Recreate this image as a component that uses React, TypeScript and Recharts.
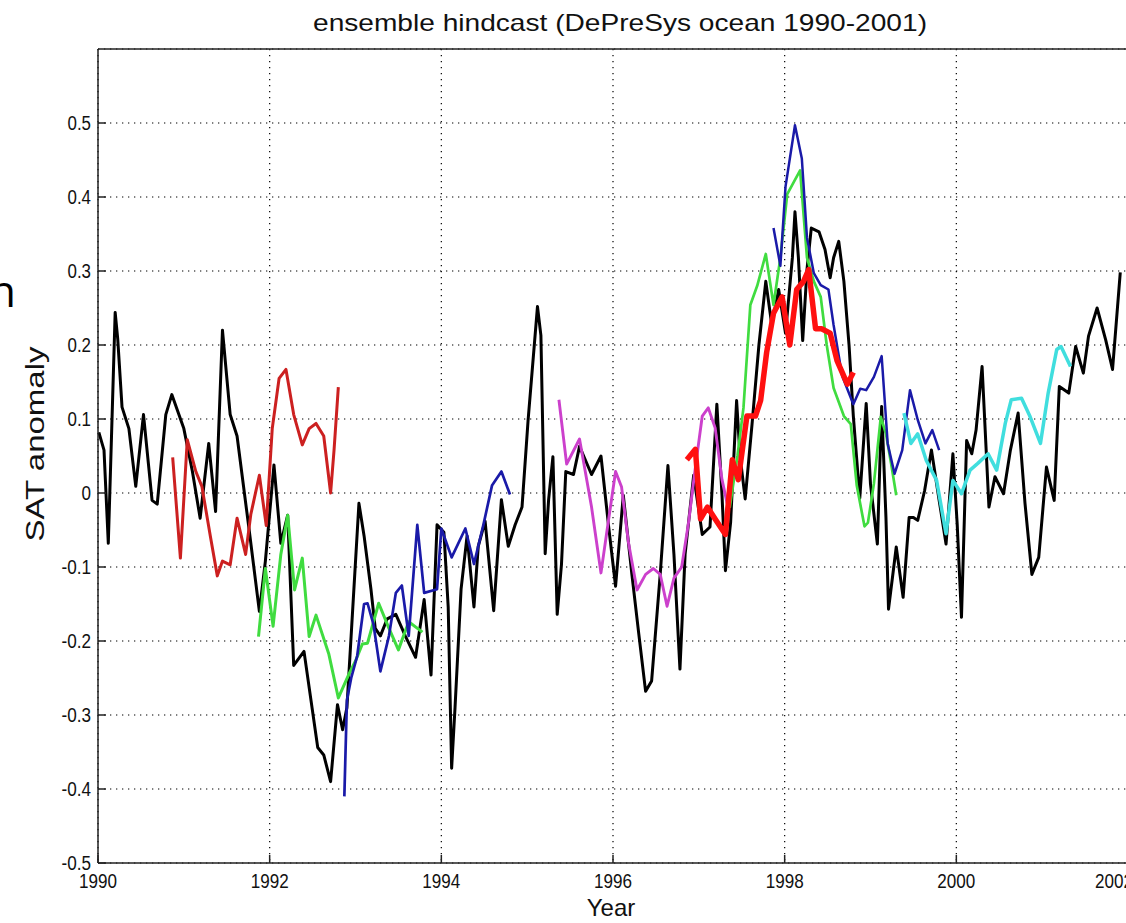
import React from "react";
import { LineChart, Line, XAxis, YAxis, CartesianGrid } from "recharts";

// ---- data (decimal year, SAT anomaly) ----
const obsYears = [
  1990.01, 1990.07, 1990.12, 1990.16, 1990.2, 1990.23, 1990.28, 1990.36, 1990.44, 1990.53, 1990.63, 1990.69,
  1990.79, 1990.86, 1991.0, 1991.1, 1991.19, 1991.29, 1991.37, 1991.45, 1991.54, 1991.62, 1991.76, 1991.88,
  1991.95, 1992.05, 1992.13, 1992.21, 1992.28, 1992.4, 1992.56, 1992.63, 1992.71, 1992.79, 1992.85, 1992.9,
  1993.04, 1993.1, 1993.18, 1993.23, 1993.29, 1993.37, 1993.47, 1993.58, 1993.7, 1993.8, 1993.88, 1993.95,
  1994.03, 1994.08, 1994.12, 1994.16, 1994.23, 1994.3, 1994.38, 1994.43, 1994.51, 1994.61, 1994.7, 1994.78,
  1994.86, 1994.94, 1995.01, 1995.12, 1995.16, 1995.21, 1995.25, 1995.3, 1995.35, 1995.4, 1995.45, 1995.54,
  1995.61, 1995.75, 1995.86, 1995.95, 1996.03, 1996.12, 1996.22, 1996.3, 1996.38, 1996.45, 1996.55, 1996.64,
  1996.71, 1996.78, 1996.84, 1996.94, 1997.04, 1997.13, 1997.21, 1997.27, 1997.31, 1997.37, 1997.44, 1997.48,
  1997.54, 1997.62, 1997.7, 1997.78, 1997.85, 1997.93, 1998.01, 1998.09, 1998.12, 1998.16, 1998.21, 1998.26,
  1998.31, 1998.4, 1998.47, 1998.53, 1998.57, 1998.63, 1998.69, 1998.75, 1998.8, 1998.875, 1998.95, 1999.0,
  1999.08, 1999.13, 1999.18, 1999.21, 1999.3, 1999.38, 1999.45, 1999.5, 1999.55, 1999.63, 1999.71, 1999.8,
  1999.88, 1999.96, 2000.01, 2000.06, 2000.12, 2000.18, 2000.23, 2000.3, 2000.38, 2000.45, 2000.55, 2000.63,
  2000.72, 2000.8, 2000.88, 2000.96, 2001.05, 2001.14, 2001.2, 2001.31, 2001.39, 2001.48, 2001.54, 2001.64,
  2001.74, 2001.82, 2001.91,
];
const obsValues = [
  0.082, 0.058, -0.068, 0.087, 0.244, 0.208, 0.116, 0.087, 0.009, 0.106, -0.01, -0.015,
  0.106, 0.133, 0.087, 0.029, -0.034, 0.067, -0.025, 0.22, 0.106, 0.077, -0.049, -0.16,
  -0.092, 0.038, -0.068, -0.03, -0.233, -0.214, -0.344, -0.354, -0.39, -0.286, -0.32, -0.29,
  -0.014, -0.058, -0.13, -0.183, -0.193, -0.17, -0.164, -0.193, -0.222, -0.144, -0.246, -0.043,
  -0.053, -0.154, -0.372, -0.289, -0.13, -0.058, -0.154, -0.072, -0.038, -0.159, -0.009, -0.072,
  -0.043, -0.019, 0.097, 0.252, 0.213, -0.082, -0.009, 0.049, -0.164, -0.096, 0.029, 0.025,
  0.063, 0.025, 0.05, -0.046, -0.126, -0.003, -0.11, -0.19, -0.268, -0.254, -0.11, 0.037,
  -0.083, -0.238, -0.083, 0.024, -0.056, -0.046, 0.12, -0.003, -0.105, -0.04, 0.125, 0.05,
  -0.008, 0.093, 0.2, 0.286, 0.227, 0.275, 0.216, 0.318, 0.38, 0.318, 0.206, 0.302,
  0.358, 0.353, 0.329, 0.291, 0.318, 0.34, 0.286, 0.2, 0.104, -0.007, 0.121, 0.012,
  -0.069, 0.117, -0.033, -0.157, -0.073, -0.141, -0.033, -0.033, -0.037, 0.003, 0.058, -0.01,
  -0.069, 0.053, -0.042, -0.168, 0.071, 0.053, 0.085, 0.171, -0.019, 0.022, -0.001, 0.058,
  0.108, -0.014, -0.11, -0.087, 0.035, -0.01, 0.144, 0.135, 0.198, 0.162, 0.212, 0.25,
  0.207, 0.167, 0.298,
];

const red1Years = [1990.87, 1990.96, 1991.04, 1991.14, 1991.21, 1991.31, 1991.39, 1991.45, 1991.54, 1991.62, 1991.72, 1991.78, 1991.88, 1991.96, 1992.03, 1992.11, 1992.19, 1992.28, 1992.38, 1992.46, 1992.54, 1992.63, 1992.71, 1992.75, 1992.8];
const red1Values = [0.048, -0.088, 0.072, 0.029, 0.009, -0.059, -0.112, -0.092, -0.097, -0.034, -0.083, -0.029, 0.024, -0.044, 0.087, 0.155, 0.167, 0.106, 0.065, 0.087, 0.094, 0.077, 0.0, 0.058, 0.143];

const green1Years = [1991.87, 1991.95, 1992.04, 1992.13, 1992.21, 1992.29, 1992.38, 1992.46, 1992.54, 1992.69, 1992.8, 1992.93, 1993.0, 1993.08, 1993.14, 1993.27, 1993.39, 1993.5, 1993.62, 1993.78];
const green1Values = [-0.194, -0.102, -0.18, -0.083, -0.03, -0.131, -0.088, -0.194, -0.165, -0.218, -0.277, -0.243, -0.227, -0.204, -0.203, -0.149, -0.183, -0.212, -0.174, -0.188];

const blue1Years = [1992.87, 1992.9, 1992.95, 1993.02, 1993.1, 1993.14, 1993.21, 1993.29, 1993.39, 1993.47, 1993.54, 1993.62, 1993.72, 1993.8, 1993.95, 1994.0, 1994.12, 1994.28, 1994.38, 1994.49, 1994.59, 1994.7, 1994.8];
const blue1Values = [-0.41, -0.28, -0.25, -0.22, -0.15, -0.149, -0.178, -0.241, -0.193, -0.135, -0.125, -0.193, -0.043, -0.135, -0.13, -0.048, -0.087, -0.048, -0.096, -0.043, 0.01, 0.029, -0.002];

const magentaYears = [1995.37, 1995.46, 1995.61, 1995.75, 1995.86, 1995.94, 1996.03, 1996.1, 1996.18, 1996.28, 1996.38, 1996.47, 1996.55, 1996.63, 1996.71, 1996.8, 1996.88, 1996.96, 1997.04, 1997.11, 1997.19, 1997.27, 1997.33];
const magentaValues = [0.126, 0.039, 0.073, -0.019, -0.108, -0.043, 0.029, 0.008, -0.067, -0.131, -0.11, -0.102, -0.11, -0.153, -0.115, -0.1, -0.04, 0.035, 0.104, 0.115, 0.088, 0.018, -0.014];

const red2Years = [1996.86, 1996.96, 1997.02, 1997.1, 1997.19, 1997.31, 1997.39, 1997.46, 1997.56, 1997.66, 1997.72, 1997.79, 1997.87, 1997.97, 1998.06, 1998.14, 1998.22, 1998.28, 1998.36, 1998.43, 1998.53, 1998.61, 1998.73, 1998.8];
const red2Values = [0.045, 0.059, -0.035, -0.019, -0.035, -0.056, 0.045, 0.018, 0.104, 0.104, 0.125, 0.19, 0.243, 0.265, 0.2, 0.275, 0.286, 0.302, 0.222, 0.222, 0.216, 0.179, 0.147, 0.163];

const green2Years = [1997.36, 1997.45, 1997.52, 1997.6, 1997.68, 1997.78, 1997.87, 1997.95, 1998.03, 1998.18, 1998.26, 1998.34, 1998.42, 1998.49, 1998.57, 1998.69, 1998.77, 1998.84, 1998.93, 1998.97, 1999.04, 1999.12, 1999.18, 1999.24, 1999.3];
const green2Values = [-0.02, 0.05, 0.115, 0.254, 0.28, 0.323, 0.254, 0.318, 0.404, 0.436, 0.318, 0.286, 0.265, 0.2, 0.142, 0.104, 0.093, 0.01, -0.045, -0.04, 0.013, 0.103, 0.08, 0.04, -0.003];

const blue2Years = [1997.87, 1997.95, 1998.01, 1998.12, 1998.2, 1998.26, 1998.34, 1998.42, 1998.51, 1998.57, 1998.67, 1998.8, 1998.88, 1998.95, 1999.04, 1999.13, 1999.2, 1999.28, 1999.37, 1999.46, 1999.55, 1999.64, 1999.72, 1999.8];
const blue2Values = [0.358, 0.307, 0.414, 0.497, 0.452, 0.345, 0.297, 0.281, 0.275, 0.227, 0.158, 0.12, 0.141, 0.139, 0.157, 0.185, 0.067, 0.026, 0.058, 0.139, 0.099, 0.067, 0.085, 0.058];

const cyanYears = [1999.39, 1999.47, 1999.55, 1999.65, 1999.77, 1999.88, 1999.96, 2000.06, 2000.16, 2000.25, 2000.37, 2000.47, 2000.57, 2000.64, 2000.76, 2000.86, 2000.98, 2001.07, 2001.17, 2001.22, 2001.33];
const cyanValues = [0.108, 0.067, 0.08, 0.044, 0.017, -0.055, 0.017, -0.001, 0.031, 0.04, 0.053, 0.031, 0.094, 0.126, 0.128, 0.103, 0.067, 0.135, 0.194, 0.198, 0.171];

const xTicks = [1990, 1992, 1994, 1996, 1998, 2000, 2002];
const yTicks = [-0.5, -0.4, -0.3, -0.2, -0.1, 0, 0.1, 0.2, 0.3, 0.4, 0.5];

const toPoints = (xs: number[], ys: number[]) => xs.map((x, i) => ({ x, y: ys[i] }));

const series = [
  { name: "obs", data: toPoints(obsYears, obsValues), color: "#000000", width: 3 },
  { name: "red1", data: toPoints(red1Years, red1Values), color: "#cc2020", width: 3 },
  { name: "green1", data: toPoints(green1Years, green1Values), color: "#40dc40", width: 3 },
  { name: "blue1", data: toPoints(blue1Years, blue1Values), color: "#1a1aa8", width: 2.7 },
  { name: "magenta", data: toPoints(magentaYears, magentaValues), color: "#cc40cc", width: 2.9 },
  { name: "green2", data: toPoints(green2Years, green2Values), color: "#40dc40", width: 2.7 },
  { name: "blue2", data: toPoints(blue2Years, blue2Values), color: "#1a1aa8", width: 2.5 },
  { name: "red2", data: toPoints(red2Years, red2Values), color: "#ff1010", width: 5.5 },
  { name: "cyan", data: toPoints(cyanYears, cyanValues), color: "#40dede", width: 3.5 },
];

const FONT = "'Liberation Sans', Arial, Helvetica, sans-serif";

const labelWidth = (s: string) => {
  let w = 0;
  for (const c of s) w += c === "." ? 4.5 : c === "-" ? 6 : 9.5;
  return w;
};

const YTick = (props: any) => {
  const { x, y, payload } = props;
  const v = payload.value as number;
  const s = Math.abs(v) < 1e-9 ? "0" : v.toFixed(1);
  return (
    <text x={x} y={y + 7} textAnchor="end" fontFamily={FONT} fontSize={20} fill="#111"
      textLength={labelWidth(s)} lengthAdjust="spacingAndGlyphs">
      {s}
    </text>
  );
};

const XTick = (props: any) => {
  const { x, y, payload } = props;
  const s = String(payload.value);
  return (
    <text x={x} y={y + 25} textAnchor="middle" fontFamily={FONT} fontSize={20} fill="#111"
      textLength={labelWidth(s)} lengthAdjust="spacingAndGlyphs">
      {s}
    </text>
  );
};

export default function App() {
  return (
    <div style={{ position: "absolute", left: 0, top: 0, width: 1126, height: 923, overflow: "hidden", background: "#fff" }}>
      <LineChart width={1130} height={923} margin={{ top: 48, right: 1, bottom: 0, left: 0 }}>
        <CartesianGrid stroke="#000" strokeDasharray="1.3 4.7" strokeWidth={1.2} />
        <XAxis
          dataKey="x" type="number" domain={[1990, 2002]} ticks={xTicks} allowDataOverflow
          height={60} tickSize={-8} tickMargin={8} tick={<XTick />}
          axisLine={{ stroke: "#222", strokeWidth: 1.5 }} tickLine={{ stroke: "#222", strokeWidth: 1.5 }}
        />
        <XAxis
          xAxisId="top" orientation="top" type="number" domain={[1990, 2002]} ticks={xTicks}
          height={1} tickSize={-8} tick={false}
          axisLine={{ stroke: "#222", strokeWidth: 1.5 }} tickLine={{ stroke: "#222", strokeWidth: 1.5 }}
        />
        <YAxis
          type="number" domain={[-0.5, 0.6]} ticks={yTicks} allowDataOverflow
          width={98} tickSize={-8} tickMargin={15} tick={<YTick />}
          axisLine={{ stroke: "#222", strokeWidth: 1.5 }} tickLine={{ stroke: "#222", strokeWidth: 1.5 }}
        />
        <YAxis
          yAxisId="right" orientation="right" type="number" domain={[-0.5, 0.6]} ticks={yTicks}
          width={1} tickSize={-8} tick={false}
          axisLine={{ stroke: "#222", strokeWidth: 1.5 }} tickLine={{ stroke: "#222", strokeWidth: 1.5 }}
        />
        {series.map((s) => (
          <Line
            key={s.name}
            data={s.data}
            dataKey="y"
            type="linear"
            stroke={s.color}
            strokeWidth={s.width}
            strokeLinejoin="round"
            dot={false}
            activeDot={false}
            isAnimationActive={false}
          />
        ))}
      </LineChart>
      <svg width={1126} height={923} style={{ position: "absolute", left: 0, top: 0, pointerEvents: "none" }}>
        <text x={620} y={31} textAnchor="middle" fontFamily={FONT} fontSize={24} fill="#111"
          textLength={614} lengthAdjust="spacingAndGlyphs">
          ensemble hindcast (DePreSys ocean  1990-2001)
        </text>
        <text x={611} y={916} textAnchor="middle" fontFamily={FONT} fontSize={24} fill="#111">
          Year
        </text>
        <text transform="translate(44,444) rotate(-90)" textAnchor="middle" fontFamily={FONT} fontSize={25} fill="#111"
          textLength={195} lengthAdjust="spacingAndGlyphs">
          SAT anomaly
        </text>
        <text x={16} y={307} textAnchor="end" fontFamily="'Open Sans', sans-serif" fontSize={44} fill="#000">
          n
        </text>
      </svg>
    </div>
  );
}
